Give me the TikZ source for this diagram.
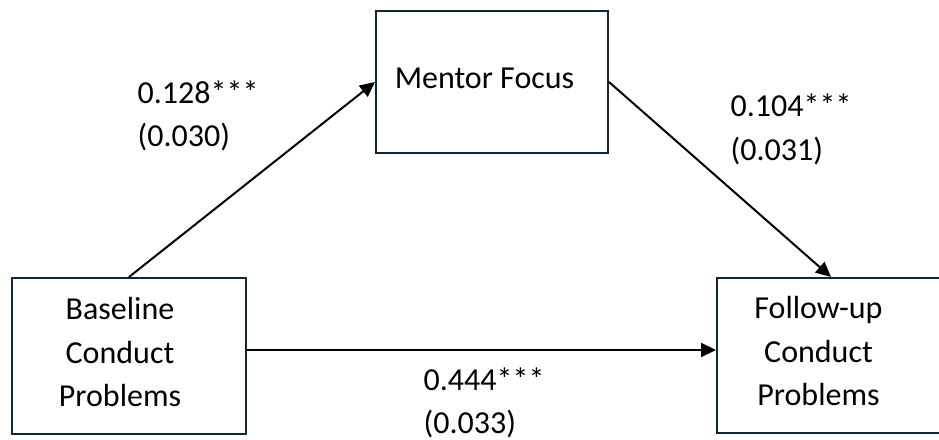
\documentclass[tikz,border=0pt]{standalone}
\usepackage{fontspec}
\setmainfont{Carlito}
\usetikzlibrary{arrows.meta}
\definecolor{boxcol}{RGB}{14,37,58}
\tikzset{
  txt/.style={font=\fontsize{32}{43.5}\selectfont, inner sep=0pt, text=black},
  boxnode/.style={draw=boxcol, line width=2pt, rectangle, inner sep=0pt, fill=white},
  arr/.style={line width=2pt, draw=black, -{Triangle[length=15pt,width=14pt]}},
  lbl/.style={txt, anchor=base west}
}
\begin{document}
\begin{tikzpicture}[x=1pt,y=-1pt]
\useasboundingbox (0,0) rectangle (939,439);
\clip (0,0) rectangle (939,439);
% boxes
\node[boxnode, minimum width=234pt, minimum height=156pt] (base) at (129,356) {};
\node[boxnode, minimum width=232pt, minimum height=142pt] (mentor) at (492,82) {};
\node[boxnode, minimum width=228pt, minimum height=155pt] (fol) at (831,355.5) {};
% box texts
\node[txt, anchor=base] (mentortxt) at (484.5,88) {Mentor Focus};
\node[txt, align=center, anchor=center] (basetxt) at (120,352.5) {Baseline\\Conduct\\Problems};
\node[txt, align=center, anchor=center] (foltxt) at (818.5,351.5) {Follow-up\\Conduct\\Problems};
% connectors
\coordinate (h) at (0,350);
\draw[arr] (base.north) -- (mentor.west);
\draw[arr] (mentor.east) -- (fol.north);
\draw[arr] (base.east |- h) -- (fol.west |- h);
% labels
\node[lbl] (l1a) at (137.5,103) {0.128***};
\node[lbl] (l1b) at (137.5,146.5) {(0.030)};
\node[lbl] (l2a) at (730.5,116) {0.104***};
\node[lbl] (l2b) at (730.5,160) {(0.031)};
\node[lbl] (l3a) at (423.5,390.5) {0.444***};
\node[lbl] (l3b) at (423.5,433) {(0.033)};
\end{tikzpicture}
\end{document}
